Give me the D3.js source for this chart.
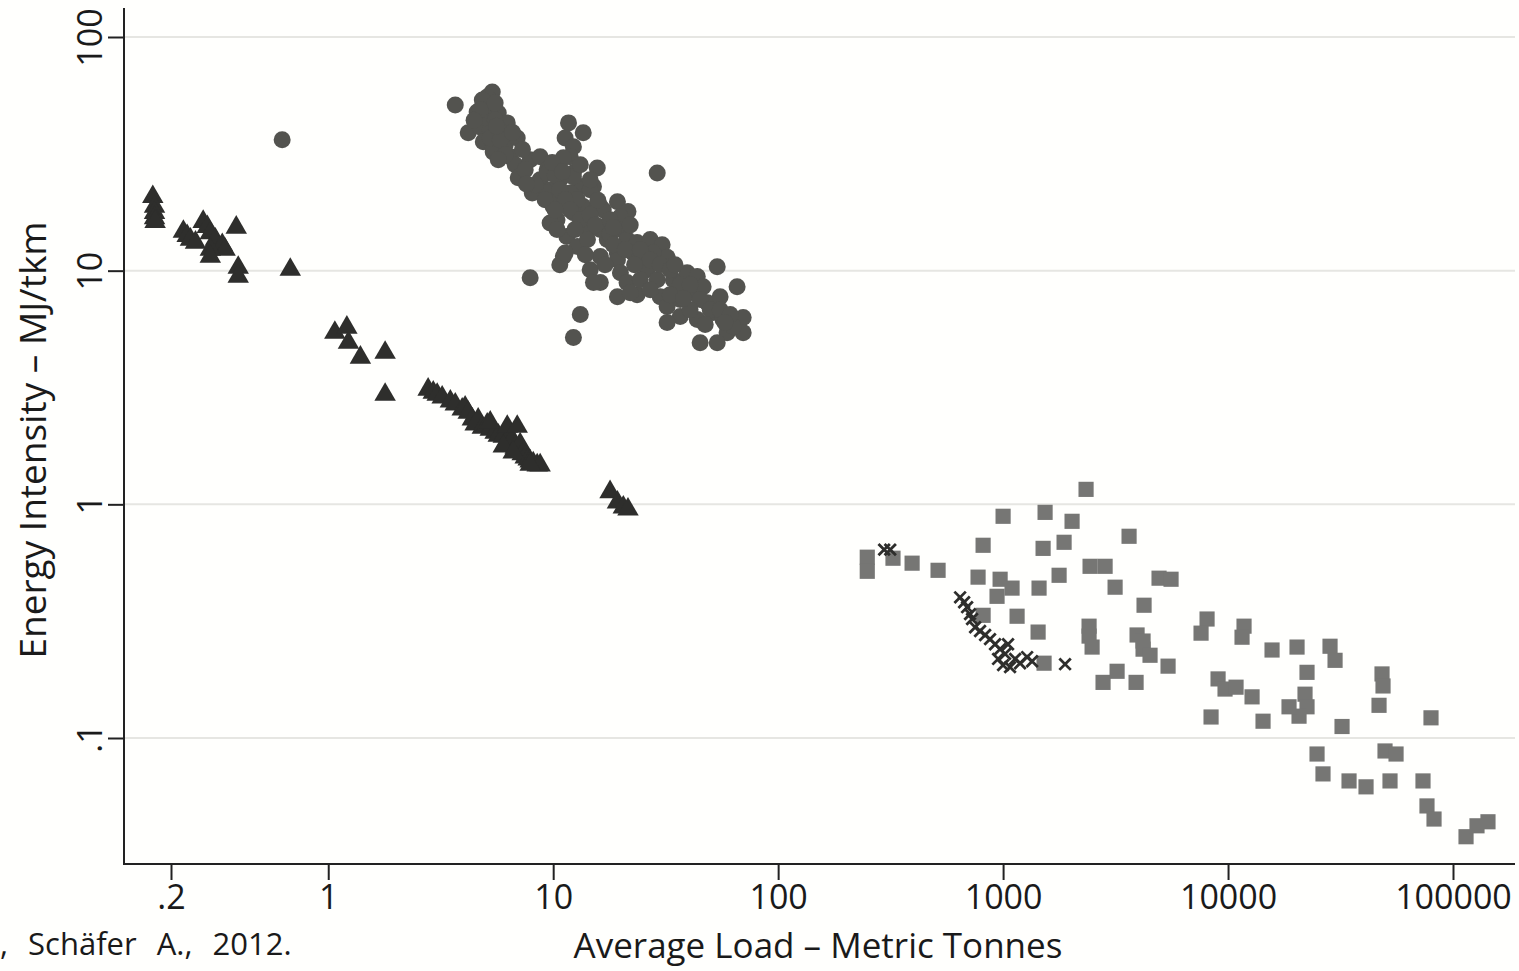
<!DOCTYPE html>
<html>
<head>
<meta charset="utf-8">
<script src="https://cdn.jsdelivr.net/npm/d3@7"></script>
<style>
  body { margin: 0; background: #fffffd; }
  text { font-family: "Open Sans", sans-serif; fill: #1a1a1a; }
</style>
</head>
<body>
<div id="chart"></div>
<script>
// tick values
const xTicks = [0.2, 1, 10, 100, 1000, 10000, 100000];
const yTicks = [0.1, 1, 10, 100];

// [average load (t), energy intensity (MJ/tkm)]
const aircraft = [
  [3.67,51.2],[5.36,58.2],[5.09,55.4],[4.84,53.8],[4.59,47.8],[5.09,48.8],[5.70,47.3],[6.25,42.9],
  [4.19,38.9],[4.74,41.2],[5.25,40.0],[4.89,35.6],[5.41,33.9],[6.12,34.5],[6.92,37.0],[5.41,32.2],
  [6.44,30.7],[6.78,28.4],[6.99,25.0],[8.07,21.5],[4.99,45.1],[5.52,44.2],[5.81,39.3],[5.25,37.0],
  [5.81,36.3],[4.74,48.8],[5.52,52.2],[6.12,31.3],[5.70,29.8],[7.90,29.8],[8.75,30.7],[9.40,27.0],
  [8.75,24.5],[9.69,22.2],[10.0,18.8],[10.4,16.5],[11.5,14.0],[11.7,42.9],[13.6,38.9],[11.3,37.0],
  [12.3,33.9],[11.9,30.7],[11.1,30.4],[15.7,27.5],[12.3,26.2],[13.2,22.9],[15.1,22.9],[16.2,18.8],
  [11.9,21.5],[13.6,18.8],[12.3,17.7],[14.2,15.0],[16.2,15.4],[17.4,13.6],[29.0,26.2],[9.40,26.2],
  [10.7,24.5],[12.3,25.2],[14.6,22.2],[19.3,19.7],[21.5,17.9],[19.9,17.0],[9.40,21.5],[10.7,20.1],
  [12.8,20.1],[15.7,18.8],[16.7,18.2],[9.69,16.0],[10.4,15.0],[12.8,12.7],[14.2,13.6],[16.2,15.0],
  [19.9,15.0],[21.3,13.6],[23.6,13.2],[27.0,13.6],[30.5,12.9],[32.1,11.4],[27.8,11.9],[25.1,11.5],
  [22.7,11.9],[19.3,11.9],[16.2,11.5],[14.6,10.1],[16.2,8.89],[19.3,11.1],[19.9,9.80],[21.3,8.89],
  [19.3,7.74],[23.6,7.89],[26.2,10.1],[29.0,9.15],[29.9,7.74],[34.2,9.15],[32.1,7.02],[36.7,7.52],
  [39.4,9.80],[43.7,9.43],[41.9,8.05],[46.4,8.54],[36.7,6.36],[43.7,6.18],[32.1,6.00],[48.4,7.29],
  [55.2,7.74],[53.6,10.4],[65.7,8.54],[51.4,6.62],[56.9,6.18],[59.3,5.43],[69.9,6.30],[69.9,5.43],
  [63.1,5.76],[45.0,4.92],[53.6,4.92],[13.2,6.49],[12.3,5.17],[11.1,11.5],[10.7,10.6],[15.1,8.89],
  [7.90,9.33],[0.624,36.3],[22.0,8.05],[11.3,11.9],[10.2,25.7],[10.7,22.2],[11.3,20.1],[11.9,18.2],
  [13.2,16.5],[14.6,17.3],[15.4,15.7],[17.9,14.3],[18.5,12.9],[20.9,12.3],[24.4,12.3],[27.0,11.1],
  [29.9,10.6],[33.1,10.1],[36.7,8.71],[40.6,8.71],[45.0,7.52],[49.9,6.81],[55.2,6.81],[61.2,6.49],
  [12.5,15.0],[13.9,11.7],[17.0,10.6],[24.4,9.15],[27.0,8.29],[33.1,7.89],[40.6,6.81],[47.4,5.88],
  [7.51,27.0],[8.32,23.3],[9.21,20.1],[10.2,18.2],[13.2,28.4],[14.6,24.5],[17.9,16.5],[22.0,15.7],
  [34.8,10.6],[4.45,44.0],[5.60,41.5],[6.60,39.0],[7.30,33.0],[7.60,23.5],[9.90,29.0],[11.0,26.5],
  [15.8,20.0],[18.5,15.3],[23.0,10.6],[38.0,7.60],[58.0,6.00]
];

const trucks = [
  [0.166,20.7],[0.169,18.8],[0.169,17.7],[0.169,16.8],[0.170,16.2],[0.227,14.7],[0.236,14.1],
  [0.244,13.6],[0.257,13.2],[0.278,16.2],[0.290,15.4],[0.299,14.5],[0.315,13.6],[0.338,12.9],
  [0.348,12.3],[0.299,12.3],[0.299,11.5],[0.390,15.3],[0.398,10.3],[0.398,9.43],[0.678,10.1],
  [1.07,5.43],[1.21,5.71],[1.23,4.92],[1.39,4.25],[1.79,4.46],[1.79,2.95],
  [2.78,3.10],[2.93,3.01],[3.05,2.95],[3.21,2.87],[3.49,2.76],[3.67,2.68],[3.94,2.55],[4.06,2.60],
  [4.19,2.47],[4.37,2.31],[4.50,2.20],[4.64,2.31],[4.84,2.13],[5.09,2.20],[5.25,2.09],[5.52,2.03],
  [5.70,1.97],[6.00,1.95],[6.25,1.88],[6.44,1.81],[6.57,1.90],[6.78,1.75],[6.99,1.69],[7.13,1.81],
  [7.28,1.64],[7.51,1.59],[7.74,1.56],[7.90,1.53],[8.15,1.50],[8.49,1.47],[8.75,1.47],[5.25,2.24],
  [6.25,2.15],[6.92,2.15],[6.00,1.77],[6.64,1.67],[7.90,1.48],
  [17.9,1.13],[19.3,1.02],[20.5,0.971],[21.5,0.952]
];

const rail = [
  [296,0.64],[315,0.64],[644,0.400],[671,0.381],[692,0.363],[713,0.339],[728,0.323],[751,0.298],
  [790,0.287],[832,0.276],[875,0.265],[921,0.252],[970,0.240],[1021,0.229],[950,0.218],[1000,0.205],
  [1074,0.201],[1131,0.218],[1190,0.209],[1279,0.222],[1346,0.213],[1052,0.252],[1886,0.207]
];

const ships = [
  [249,0.594],[249,0.517],[324,0.588],[394,0.560],[514,0.522],[1000,0.889],[815,0.668],[774,0.488],
  [970,0.478],[1096,0.438],[940,0.404],[815,0.335],[1154,0.332],[1431,0.284],[1521,0.209],[1537,0.924],
  [2026,0.846],[2338,1.159],[1506,0.648],[1867,0.688],[1774,0.497],[1445,0.438],[2436,0.543],[2841,0.543],
  [3147,0.442],[3631,0.730],[4935,0.483],[5580,0.478],[4233,0.370],[2411,0.301],[2411,0.273],[2487,0.245],
  [3941,0.276],[4190,0.260],[4190,0.240],[4500,0.226],[5412,0.203],[2782,0.173],[3212,0.193],[3901,0.173],
  [8067,0.323],[7586,0.281],[11778,0.301],[11540,0.270],[15689,0.238],[20263,0.245],[28403,0.247],
  [29903,0.215],[22443,0.191],[9029,0.179],[9697,0.162],[10853,0.165],[12787,0.150],[21988,0.154],
  [22443,0.136],[20682,0.124],[18668,0.136],[8404,0.123],[14307,0.118],[32118,0.112],[48360,0.188],
  [48858,0.167],[46904,0.138],[79838,0.122],[24866,0.0854],[26430,0.0702],[34503,0.0655],[41058,0.0618],
  [49866,0.0880],[55826,0.0854],[52481,0.0655],[73560,0.0655],[76624,0.0512],[82352,0.0450],
  [114272,0.0378],[127850,0.0421],[143050,0.0438]
];

var width = 1519, height = 971;
var plot = {left: 124, right: 1515, top: 8, bottom: 864};

var svg = d3.select("#chart")
  .append("svg")
  .attr("width", width)
  .attr("height", height);

var x = d3.scaleLog().domain([0.2, 100000]).range([171, 1453]);
var y = d3.scaleLog().domain([0.1, 100]).range([738, 37]);

var fmt = d => d < 1 ? String(d).replace(/^0/, "") : String(d);

// gridlines
svg.append("g")
  .selectAll("line")
  .data(yTicks)
  .enter()
  .append("line")
  .attr("x1", plot.left).attr("x2", plot.right)
  .attr("y1", d => y(d)).attr("y2", d => y(d))
  .attr("stroke", "#e6e6e2")
  .attr("stroke-width", 2);

// markers
svg.append("g")
  .selectAll("circle")
  .data(aircraft)
  .enter()
  .append("circle")
  .attr("cx", d => x(d[0]))
  .attr("cy", d => y(d[1]))
  .attr("r", 8.5)
  .attr("fill", "#53534f");

svg.append("g")
  .selectAll("path")
  .data(trucks)
  .enter()
  .append("path")
  .attr("d", d3.symbol().type(d3.symbolTriangle).size(200))
  .attr("transform", d => "translate(" + x(d[0]) + "," + y(d[1]) + ")")
  .attr("fill", "#2e2e2c");

svg.append("g")
  .selectAll("path")
  .data(ships)
  .enter()
  .append("path")
  .attr("d", d3.symbol().type(d3.symbolSquare).size(230))
  .attr("transform", d => "translate(" + x(d[0]) + "," + y(d[1]) + ")")
  .attr("fill", "#767674");

var cross = {
  draw: function(ctx, size) {
    var r = Math.sqrt(size) / 2;
    ctx.moveTo(-r, -r); ctx.lineTo(r, r);
    ctx.moveTo(r, -r); ctx.lineTo(-r, r);
  }
};
svg.append("g")
  .selectAll("path")
  .data(rail)
  .enter()
  .append("path")
  .attr("d", d3.symbol().type(cross).size(130))
  .attr("transform", d => "translate(" + x(d[0]) + "," + y(d[1]) + ")")
  .attr("fill", "none")
  .attr("stroke", "#2e2e2c")
  .attr("stroke-width", 2.8);

// axes
var yAxis = svg.append("g")
  .attr("transform", "translate(" + plot.left + ",0)")
  .call(d3.axisLeft(y).tickValues(yTicks).tickFormat(fmt).tickSize(16).tickSizeOuter(0));
yAxis.select(".domain").remove();
yAxis.selectAll("line").attr("stroke", "#222").attr("stroke-width", 2);
yAxis.selectAll("text")
  .attr("transform", "rotate(-90)")
  .attr("x", 0).attr("y", -22).attr("dy", 0)
  .style("text-anchor", "middle")
  .style("font-size", "34px")
  .attr("fill", "#1a1a1a");

var xAxis = svg.append("g")
  .attr("transform", "translate(0," + plot.bottom + ")")
  .call(d3.axisBottom(x).tickValues(xTicks).tickFormat(fmt).tickSize(16).tickSizeOuter(0));
xAxis.select(".domain").remove();
xAxis.selectAll("line").attr("stroke", "#222").attr("stroke-width", 2);
xAxis.selectAll("text")
  .attr("y", 21).attr("dy", "0.71em")
  .style("font-size", "34px")
  .attr("fill", "#1a1a1a");

svg.append("line")
  .attr("x1", plot.left).attr("x2", plot.left)
  .attr("y1", plot.top).attr("y2", plot.bottom + 1)
  .attr("stroke", "#222").attr("stroke-width", 2);
svg.append("line")
  .attr("x1", plot.left - 1).attr("x2", plot.right)
  .attr("y1", plot.bottom).attr("y2", plot.bottom)
  .attr("stroke", "#222").attr("stroke-width", 2);

// titles
svg.append("text")
  .attr("x", 818).attr("y", 958)
  .style("text-anchor", "middle")
  .style("font-size", "35px")
  .text("Average Load \u2013 Metric Tonnes");

svg.append("text")
  .attr("transform", "translate(46,440) rotate(-90)")
  .style("text-anchor", "middle")
  .style("font-size", "37px")
  .text("Energy Intensity \u2013 MJ/tkm");

svg.append("text")
  .attr("x", 0).attr("y", 955)
  .style("font-size", "31px")
  .style("word-spacing", "12px")
  .text(", Sch\u00e4fer A., 2012.");
</script>
</body>
</html>
